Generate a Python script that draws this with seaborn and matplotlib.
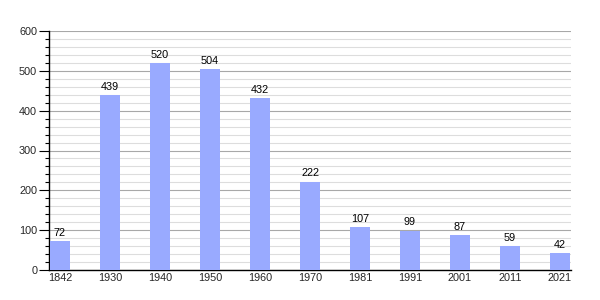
import matplotlib
matplotlib.use("Agg")
import matplotlib.pyplot as plt
import seaborn as sns
import pandas as pd
from matplotlib.ticker import MultipleLocator

years = ["1842", "1930", "1940", "1950", "1960", "1970", "1981", "1991", "2001", "2011", "2021"]
population = [72, 439, 520, 504, 432, 222, 107, 99, 87, 59, 42]

sns.set_theme(style="white")
plt.rcParams['font.family'] = ['Liberation Sans', 'DejaVu Sans']

df = pd.DataFrame({"year": years, "pop": population})

fig = plt.figure(figsize=(6, 3), dpi=100)
ax = fig.add_axes([49/600, 30/300, 522/600, 239/300])

sns.barplot(data=df, x="year", y="pop", color="#99aaff", saturation=1, width=0.4,
            linewidth=0, edgecolor="none", ax=ax, zorder=3)

ax.set_xlim(-0.22, 10.22)
ax.set_ylim(0, 600)
ax.yaxis.set_major_locator(MultipleLocator(100))
ax.yaxis.set_minor_locator(MultipleLocator(20))
ax.grid(which="major", axis="y", color="#a8a8a8", linewidth=0.8, zorder=0)
ax.grid(which="minor", axis="y", color="#dddddd", linewidth=0.8, zorder=0)
ax.set_axisbelow(True)

for s in ["top", "right"]:
    ax.spines[s].set_visible(False)
for s in ["left", "bottom"]:
    ax.spines[s].set_color("black")
    ax.spines[s].set_linewidth(1.0)

ax.tick_params(axis="y", which="major", left=True, length=7, width=0.8, color="black", labelsize=7.8, pad=1.5)
ax.tick_params(axis="y", which="minor", left=True, length=3, width=0.8, color="black")
ax.tick_params(axis="x", bottom=False, length=0, labelsize=7.8, pad=2)
ax.set_xlabel("")
ax.set_ylabel("")

for i, v in enumerate(population):
    ax.text(i, v + 8, str(v), ha="center", va="bottom", fontsize=7.8, color="black")

fig.savefig("out.png", dpi=100, facecolor="white")
